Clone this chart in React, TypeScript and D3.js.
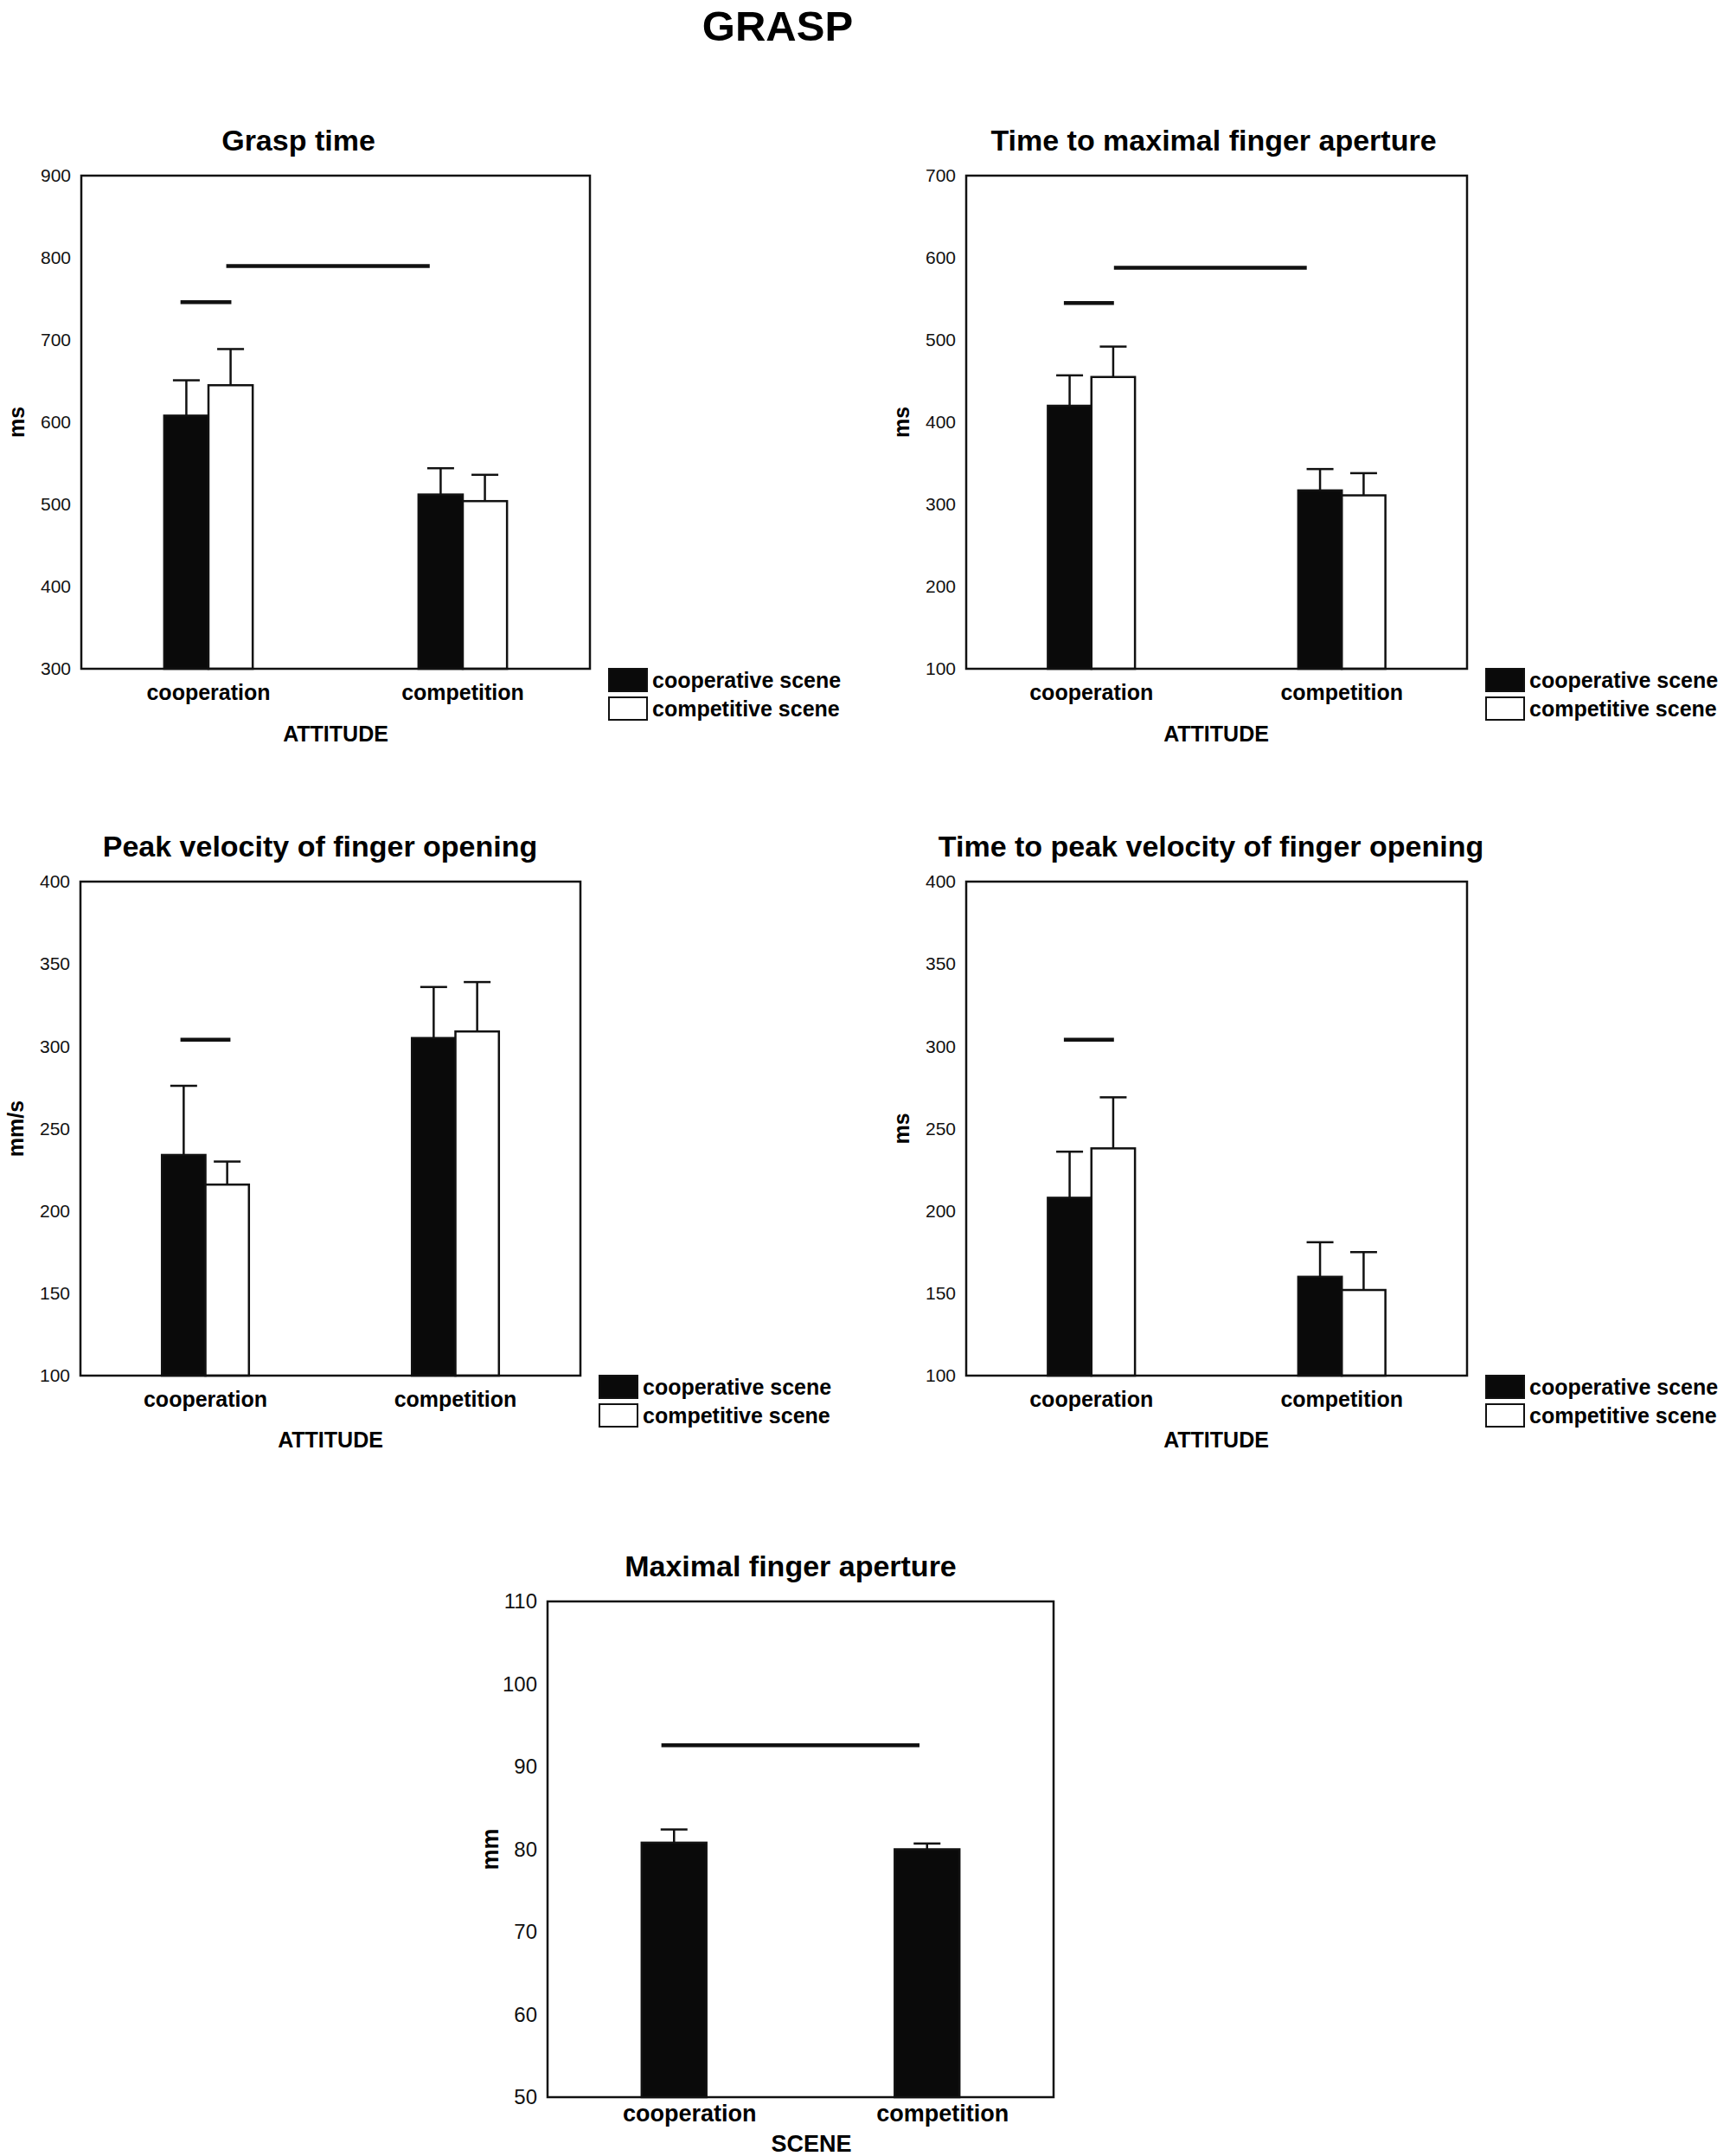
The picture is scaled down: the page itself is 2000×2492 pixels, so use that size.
import React, { useRef, useEffect } from 'react';
import * as d3 from 'd3';

// ---- data ----
const attitudes = ['cooperation', 'competition'];
const scenes = ['cooperative scene', 'competitive scene'];
const sceneFills = ['#0a0a0a', '#ffffff'];

// means per attitude, one value per scene
const graspTime = [[608, 645], [512, 504]];
const graspTimeErr = [[43, 44], [32, 32]];

const timeMaxAperture = [[420, 455], [317, 311]];
const timeMaxApertureErr = [[37, 37], [26, 27]];

const peakVelocity = [[234, 216], [305, 309]];
const peakVelocityErr = [[42, 14], [31, 30]];

const timePeakVelocity = [[208, 238], [160, 152]];
const timePeakVelocityErr = [[28, 31], [21, 23]];

// maximal finger aperture: one bar per scene
const sceneCats = ['cooperation', 'competition'];
const maxAperture = [[80.8], [80.0]];
const maxApertureErr = [[1.6], [0.7]];

// significance bars: [from, to, value], from/to in category units (0 = first category centre, 1 = second)
const graspSig = [[-0.11, 0.09, 746], [0.07, 0.87, 790]];
const timeMaxSig = [[-0.11, 0.09, 545], [0.09, 0.86, 588]];
const peakVelSig = [[-0.1, 0.1, 304]];
const timePeakSig = [[-0.11, 0.09, 304]];
const maxApertureSig = [[-0.05, 0.97, 92.6]];

interface ChartCfg {
  title: string;
  titleX: number;
  yLabel: string;
  yLabelGap: number;
  xLabel: string;
  xLabelX: number;
  cats: string[];
  series: string[];
  values: number[][];
  errs: number[][];
  sig: number[][];
  yDomain: [number, number];
  yStep: number;
  box: { left: number; right: number; top: number; bottom: number };
  barFrac: number;
  legend: boolean;
  tickFont: number;
  labelFont: number;
  catDy: number;
  catDx: number;
  xLabelDy: number;
}

const charts: ChartCfg[] = [
  {
    title: 'Grasp time', titleX: 345, yLabel: 'ms', yLabelGap: 66, xLabel: 'ATTITUDE', xLabelX: 388,
    cats: attitudes, series: scenes, values: graspTime, errs: graspTimeErr, sig: graspSig,
    yDomain: [300, 900], yStep: 100,
    box: { left: 94, right: 682, top: 203, bottom: 773 },
    barFrac: 0.087, legend: true, tickFont: 21, labelFont: 25, catDy: 36, catDx: 0, xLabelDy: 84,
  },
  {
    title: 'Time to maximal finger aperture', titleX: 1403, yLabel: 'ms', yLabelGap: 66, xLabel: 'ATTITUDE', xLabelX: 1406,
    cats: attitudes, series: scenes, values: timeMaxAperture, errs: timeMaxApertureErr, sig: timeMaxSig,
    yDomain: [100, 700], yStep: 100,
    box: { left: 1117, right: 1696, top: 203, bottom: 773 },
    barFrac: 0.087, legend: true, tickFont: 21, labelFont: 25, catDy: 36, catDx: 0, xLabelDy: 84,
  },
  {
    title: 'Peak velocity of finger opening', titleX: 370, yLabel: 'mm/s', yLabelGap: 66, xLabel: 'ATTITUDE', xLabelX: 382,
    cats: attitudes, series: scenes, values: peakVelocity, errs: peakVelocityErr, sig: peakVelSig,
    yDomain: [100, 400], yStep: 50,
    box: { left: 93, right: 671, top: 1019, bottom: 1590 },
    barFrac: 0.087, legend: true, tickFont: 21, labelFont: 25, catDy: 36, catDx: 0, xLabelDy: 83,
  },
  {
    title: 'Time to peak velocity of finger opening', titleX: 1400, yLabel: 'ms', yLabelGap: 66, xLabel: 'ATTITUDE', xLabelX: 1406,
    cats: attitudes, series: scenes, values: timePeakVelocity, errs: timePeakVelocityErr, sig: timePeakSig,
    yDomain: [100, 400], yStep: 50,
    box: { left: 1117, right: 1696, top: 1019, bottom: 1590 },
    barFrac: 0.087, legend: true, tickFont: 21, labelFont: 25, catDy: 36, catDx: 0, xLabelDy: 83,
  },
  {
    title: 'Maximal finger aperture', titleX: 914, yLabel: 'mm', yLabelGap: 57, xLabel: 'SCENE', xLabelX: 938,
    cats: sceneCats, series: ['scene'], values: maxAperture, errs: maxApertureErr, sig: maxApertureSig,
    yDomain: [50, 110], yStep: 10,
    box: { left: 633, right: 1218, top: 1851, bottom: 2424 },
    barFrac: 0.128, legend: false, tickFont: 24, labelFont: 27, catDy: 28, catDx: 18, xLabelDy: 63,
  },
];

const FONT = "'Liberation Sans', Arial, sans-serif";

function drawChart(svg: d3.Selection<SVGSVGElement, unknown, null, undefined>, cfg: ChartCfg) {
  const { left, right, top, bottom } = cfg.box;
  const g = svg.append('g');
  const plotW = right - left;

  const x0 = d3.scaleBand().domain(cfg.cats).range([left, right]).paddingInner(0).paddingOuter(0);
  const barW = plotW * cfg.barFrac;
  const x1 = d3.scaleBand().domain(cfg.series.map(String))
    .range([-barW * cfg.series.length / 2, barW * cfg.series.length / 2]);
  const y = d3.scaleLinear().domain(cfg.yDomain).range([bottom, top]);
  const catCentre = (c: string) => (x0(c) as number) + x0.bandwidth() / 2;
  const catUnit = d3.scaleLinear().domain([0, 1]).range([catCentre(cfg.cats[0]), catCentre(cfg.cats[1])]);

  // title
  g.append('text')
    .attr('x', cfg.titleX).attr('y', top - 29)
    .attr('text-anchor', 'middle')
    .attr('font-family', FONT).attr('font-weight', 'bold').attr('font-size', 34)
    .text(cfg.title);

  // y axis tick labels
  const ticks = d3.range(cfg.yDomain[0], cfg.yDomain[1] + cfg.yStep / 2, cfg.yStep);
  const yAxis = d3.axisLeft(y).tickValues(ticks).tickSize(0).tickPadding(12).tickFormat(d3.format('d'));
  const ax = g.append('g').attr('transform', `translate(${left},0)`).call(yAxis);
  ax.select('.domain').remove();
  ax.selectAll('text').attr('font-family', FONT).attr('font-size', cfg.tickFont).attr('fill', '#111');

  // bars
  cfg.cats.forEach((c, ci) => {
    cfg.series.forEach((s, si) => {
      const v = cfg.values[ci][si];
      const e = cfg.errs[ci][si];
      const bx = catCentre(c) + (x1(String(s)) as number);
      const bw = x1.bandwidth();
      const cx = bx + bw / 2;
      // error bar (upper only), drawn first so the bar edge covers its foot
      g.append('line')
        .attr('x1', cx).attr('x2', cx).attr('y1', y(v)).attr('y2', y(v + e))
        .attr('stroke', '#111').attr('stroke-width', 2.5);
      g.append('line')
        .attr('x1', cx - 15.5).attr('x2', cx + 15.5).attr('y1', y(v + e)).attr('y2', y(v + e))
        .attr('stroke', '#111').attr('stroke-width', 2.5);
      g.append('rect')
        .attr('x', bx).attr('y', y(v))
        .attr('width', bw).attr('height', bottom - y(v))
        .attr('fill', sceneFills[si]).attr('stroke', '#111').attr('stroke-width', 2.5);
    });
  });

  // significance lines
  cfg.sig.forEach(([a, b, v]) => {
    g.append('line')
      .attr('x1', catUnit(a)).attr('x2', catUnit(b)).attr('y1', y(v)).attr('y2', y(v))
      .attr('stroke', '#111').attr('stroke-width', 4.5);
  });

  // frame
  g.append('rect')
    .attr('x', left).attr('y', top).attr('width', plotW).attr('height', bottom - top)
    .attr('fill', 'none').attr('stroke', '#111').attr('stroke-width', 2.5);

  // category labels
  cfg.cats.forEach(c => {
    g.append('text')
      .attr('x', catCentre(c) + cfg.catDx).attr('y', bottom + cfg.catDy)
      .attr('text-anchor', 'middle')
      .attr('font-family', FONT).attr('font-weight', 'bold').attr('font-size', cfg.labelFont)
      .text(c);
  });

  // x axis title
  g.append('text')
    .attr('x', cfg.xLabelX).attr('y', bottom + cfg.xLabelDy)
    .attr('text-anchor', 'middle')
    .attr('font-family', FONT).attr('font-weight', 'bold').attr('font-size', cfg.labelFont)
    .text(cfg.xLabel);

  // y axis title
  const ly = (top + bottom) / 2;
  const lx = left - cfg.yLabelGap;
  g.append('text')
    .attr('transform', `translate(${lx},${ly}) rotate(-90)`)
    .attr('text-anchor', 'middle')
    .attr('font-family', FONT).attr('font-weight', 'bold').attr('font-size', cfg.labelFont)
    .text(cfg.yLabel);

  // legend
  if (cfg.legend) {
    cfg.series.forEach((s, si) => {
      const sy = bottom + si * 33;
      g.append('rect')
        .attr('x', right + 22).attr('y', sy).attr('width', 44).attr('height', 26)
        .attr('fill', sceneFills[si]).attr('stroke', '#111').attr('stroke-width', 2);
      g.append('text')
        .attr('x', right + 72).attr('y', sy + 22)
        .attr('font-family', FONT).attr('font-weight', 'bold').attr('font-size', 25)
        .text(s);
    });
  }
}

const App: React.FC = () => {
  const ref = useRef<SVGSVGElement | null>(null);

  useEffect(() => {
    if (!ref.current) return;
    const svg = d3.select(ref.current);
    svg.selectAll('*').remove();

    svg.append('rect').attr('width', 2000).attr('height', 2492).attr('fill', '#fff');

    svg.append('text')
      .attr('x', 899).attr('y', 47)
      .attr('text-anchor', 'middle')
      .attr('font-family', FONT).attr('font-weight', 'bold').attr('font-size', 49)
      .text('GRASP');

    charts.forEach(cfg => drawChart(svg, cfg));
  }, []);

  return (
    <svg ref={ref} width={2000} height={2492}
      style={{ position: 'absolute', left: 0, top: 0, display: 'block' }} />
  );
};

export default App;
